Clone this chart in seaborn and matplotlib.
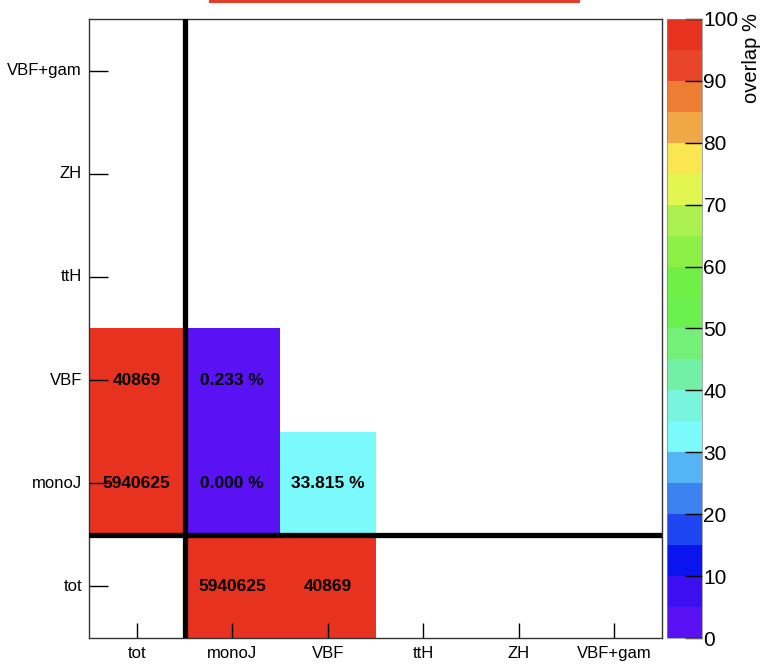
import numpy as np
import pandas as pd
import matplotlib
matplotlib.use("Agg")
import matplotlib.pyplot as plt
import seaborn as sns
from matplotlib.colors import ListedColormap
from matplotlib.lines import Line2D

# channel names, bottom-to-top on y and left-to-right on x
channels = ["tot", "monoJ", "VBF", "ttH", "ZH", "VBF+gam"]
# number of events per channel (shown in the tot row and tot column)
tot_counts = [np.nan, 5940625, 40869, np.nan, np.nan, np.nan]
# overlap % between pairs of channels
pair_x = ["monoJ", "monoJ", "VBF"]
pair_y = ["monoJ", "VBF", "monoJ"]
pair_overlap = [0.000, 0.233, 33.815]

cbar_ticks = [0, 10, 20, 30, 40, 50, 60, 70, 80, 90, 100]

# ROOT like rainbow palette, 20 steps (0 -> 100)
palette = ["#5a12f5", "#3c0ff0", "#0a14f0", "#1e46f0", "#3c82f0",
           "#55b4f5", "#7afafa", "#78f5dc", "#72f0a5", "#74f078",
           "#6cf050", "#70f046", "#8cf046", "#aaf04e", "#e2f550",
           "#fae650", "#f0a846", "#ec7d33", "#e9452a", "#e83220"]

plt.rcParams["font.family"] = ["Liberation Sans", "DejaVu Sans"]

vals = pd.DataFrame(np.nan, index=channels, columns=channels)
text = pd.DataFrame("", index=channels, columns=channels)
for ch, n in zip(channels, tot_counts):
    if not np.isnan(n):
        vals.loc["tot", ch] = n
        vals.loc[ch, "tot"] = n
        text.loc["tot", ch] = f"{int(n)}"
        text.loc[ch, "tot"] = f"{int(n)}"
for x, y, v in zip(pair_x, pair_y, pair_overlap):
    vals.loc[y, x] = v
    text.loc[y, x] = f"{v:.3f} %"

# heatmap draws rows top-down, so flip
vals = vals.iloc[::-1]
text = text.iloc[::-1]

fig = plt.figure(figsize=(7.63, 6.64), dpi=100)
ax = fig.add_axes([89 / 763, 26 / 664, 573 / 763, 619 / 664])
cax = fig.add_axes([667 / 763, 26 / 664, 35 / 763, 619 / 664])

cmap = ListedColormap(palette)
sns.heatmap(vals, ax=ax, cbar_ax=cax, cmap=cmap, vmin=0, vmax=100,
            annot=text.values, fmt="",
            annot_kws=dict(fontsize=12.5, fontweight="bold", color="black"),
            cbar_kws=dict(ticks=cbar_ticks))

for s in ax.spines.values():
    s.set_visible(True)
    s.set_linewidth(1.0)
    s.set_color("#333333")

ax.axvline(1, color="black", lw=3.8, zorder=5)
ax.axhline(5, color="black", lw=3.8, zorder=5)

ax.set_xlabel("")
ax.set_ylabel("")
ax.set_xticklabels(channels, rotation=0, fontsize=12)
ax.set_yticklabels(channels[::-1], rotation=0, fontsize=12)
ax.tick_params(axis="x", bottom=True, direction="in", length=11, width=1, pad=6, color="black")
ax.tick_params(axis="y", left=True, direction="in", length=13.5, width=1, pad=5, color="black")

cax.tick_params(right=True, direction="in", length=12, width=1, pad=1, labelsize=15, color="black")
cax.set_yticklabels([str(t) for t in cbar_ticks])
cbar = ax.collections[0].colorbar
cbar.outline.set_linewidth(0.5)
cbar.outline.set_edgecolor("#888888")
cax.set_ylabel("overlap %", fontsize=14.5, rotation=90, loc="top")
cax.yaxis.set_label_coords(2.4, 1.01)
cax.yaxis.label.set_va("center")
cax.yaxis.label.set_ha("right")

# red edge of the cropped title box
fig.add_artist(Line2D([211 / 763, 578 / 763], [1 - 1 / 664] * 2,
                      transform=fig.transFigure, color="#e0402c", lw=3))

fig.savefig("out.png", dpi=100)
